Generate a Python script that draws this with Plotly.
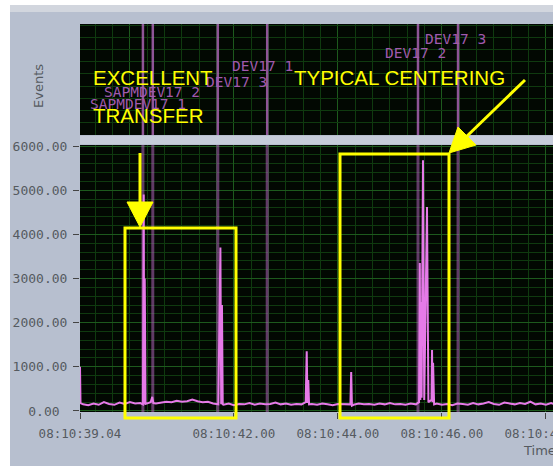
import plotly.graph_objects as go

W, H = 553, 466

# ---------------- data ----------------
times = [39.04, 39.05, 39.10, 39.20, 39.30, 39.40, 39.50, 39.60, 39.70, 39.80, 39.90,
         40.00, 40.10, 40.20, 40.25, 40.265, 40.275, 40.285, 40.30, 40.40, 40.43, 40.45,
         40.50, 40.60, 40.70, 40.80, 40.90, 41.00, 41.10, 41.20, 41.30, 41.40, 41.50,
         41.60, 41.70, 41.74, 41.755, 41.77, 41.785, 41.80, 41.90, 42.00, 42.10, 42.20,
         42.30, 42.40, 42.50, 42.60, 42.70, 42.80, 42.90, 43.00, 43.10, 43.20, 43.30,
         43.38, 43.40, 43.415, 43.43, 43.445, 43.50, 43.60, 43.70, 43.80, 43.90, 44.00,
         44.10, 44.20, 44.24, 44.255, 44.27, 44.30, 44.40, 44.50, 44.60, 44.70, 44.80,
         44.90, 45.00, 45.10, 45.20, 45.30, 45.40, 45.50, 45.56, 45.575, 45.585, 45.595,
         45.61, 45.636, 45.66, 45.713, 45.74, 45.80, 45.81, 45.82, 45.83, 45.85, 45.90,
         46.00, 46.10, 46.20, 46.30, 46.40, 46.50, 46.60, 46.70, 46.80, 46.90, 47.00,
         47.10, 47.20, 47.30, 47.40, 47.50, 47.60, 47.70, 47.80, 47.90, 48.00, 48.10,
         48.14]
events_per_bin = [1000, 180, 150, 130, 170, 140, 200, 160, 140, 190, 160,
                  200, 170, 180, 150, 4900, 150, 3000, 160, 200, 320, 180,
                  170, 190, 210, 200, 230, 210, 220, 260, 220, 200, 210,
                  170, 150, 3700, 150, 2400, 150, 140, 170, 130, 160, 150,
                  180, 140, 170, 150, 160, 190, 150, 170, 140, 160, 150,
                  200, 1350, 180, 700, 150, 160, 140, 170, 150, 130, 160,
                  150, 140, 150, 880, 120, 140, 170, 150, 160, 140, 170,
                  150, 180, 150, 160, 140, 170, 150, 200, 3350, 250, 2470,
                  300, 5680, 250, 4620, 200, 250, 1380, 200, 1090, 150, 170,
                  140, 160, 130, 170, 160, 140, 180, 150, 170, 200, 160,
                  140, 190, 170, 150, 180, 160, 210, 150, 170, 140, 180,
                  160]

event_times = [40.25, 40.44, 41.69, 42.64, 45.54, 46.31]
event_labels = ["SAPMDEV17 1", "SAPMDEV17 2", "DEV17 3", "DEV17 1", "DEV17 2", "DEV17 3"]
event_label_times = [40.155, 40.425, 42.04, 42.54, 45.50, 46.27]
event_label_levels = [0.279, 0.387, 0.477, 0.62, 0.739, 0.865]

x_tickvals = [39.04, 42, 44, 46, 48]
x_ticktext = ["08:10:39.04", "08:10:42.00", "08:10:44.00", "08:10:46.00", "08:10:48.00"]
y_tickvals = [0, 1000, 2000, 3000, 4000, 5000, 6000]
y_ticktext = ["0.00\u00a0", "1000.00", "2000.00", "3000.00", "4000.00", "5000.00", "6000.00"]


def px(x):
    return x / W


def py(y):
    return 1 - y / H


fig = go.Figure()

# event marker lines (main + top panel)
mx, my, tx, ty = [], [], [], []
for t in event_times:
    mx += [t, t, None]
    my += [-500, 8000, None]
    tx += [t, t, None]
    ty += [-0.1, 1.1, None]
fig.add_trace(go.Scatter(x=mx, y=my, mode="lines", xaxis="x", yaxis="y",
                         line=dict(color="rgba(175,100,185,0.55)", width=3),
                         hoverinfo="skip", showlegend=False))
fig.add_trace(go.Scatter(x=tx, y=ty, mode="lines", xaxis="x2", yaxis="y2",
                         line=dict(color="rgba(190,110,200,0.75)", width=2.5),
                         hoverinfo="skip", showlegend=False))

# data line
fig.add_trace(go.Scatter(x=times, y=events_per_bin, mode="lines", xaxis="x", yaxis="y",
                         line=dict(color="#e67ae8", width=2), showlegend=False))

grid_major = "#1d5a1d"
grid_minor = "#0f3a0f"
tickfont = dict(family="DejaVu Sans Mono", size=12.5, color="#555a60")

fig.update_layout(
    width=W, height=H,
    margin=dict(l=0, r=0, t=0, b=0, pad=0, autoexpand=False),
    paper_bgcolor="#b7bfcf",
    plot_bgcolor="#020802",
    showlegend=False,
    xaxis=dict(domain=[80 / W, 1], range=[39.04, 39.04 + 473 / 52], anchor="y", automargin=False,
               tickmode="array", tickvals=x_tickvals, ticktext=x_ticktext,
               ticks="outside", ticklen=6, tickcolor="#444", tickwidth=1,
               ticklabelstandoff=4, ticklabeloverflow="allow",
               showgrid=True, gridcolor=grid_major, gridwidth=1,
               minor=dict(tick0=42, dtick=1 / 3, showgrid=True, gridcolor=grid_minor, ticks=""),
               zeroline=False, showline=False, tickfont=tickfont),
    xaxis2=dict(domain=[80 / W, 1], matches="x", anchor="y2", automargin=False,
                showticklabels=False, ticks="",
                showgrid=True, gridcolor=grid_major,
                minor=dict(tick0=42, dtick=1 / 3, showgrid=True, gridcolor=grid_minor, ticks=""),
                zeroline=False, showline=False),
    yaxis=dict(domain=[(H - 412) / H, (H - 145) / H], range=[-23, 6023], anchor="x", automargin=False,
               tickmode="array", tickvals=y_tickvals, ticktext=y_ticktext,
               ticks="outside", ticklen=6, tickcolor="#444", ticklabelstandoff=3,
               showgrid=True, gridcolor=grid_major,
               minor=dict(dtick=200, showgrid=True, gridcolor=grid_minor, ticks=""),
               zeroline=False, showline=False,
               tickfont=dict(family="DejaVu Sans Mono", size=13, color="#555a60")),
    yaxis2=dict(domain=[(H - 135) / H, (H - 24) / H], range=[0, 1], anchor="x2", automargin=False,
                tickmode="linear", tick0=0, dtick=0.11, showticklabels=False, ticks="",
                showgrid=True, gridcolor=grid_minor, zeroline=False, showline=False),
)

shapes = []
# frame strips
shapes.append(dict(type="rect", xref="paper", yref="paper", x0=0, x1=1, y0=py(12), y1=py(5),
                   fillcolor="#d2d6de", line=dict(width=0), layer="above"))
shapes.append(dict(type="rect", xref="paper", yref="paper", x0=0, x1=1, y0=py(5), y1=1,
                   fillcolor="#ffffff", line=dict(width=0), layer="above"))
shapes.append(dict(type="rect", xref="paper", yref="paper", x0=0, x1=px(10), y0=0, y1=1,
                   fillcolor="#ffffff", line=dict(width=0), layer="above"))
shapes.append(dict(type="rect", xref="paper", yref="paper", x0=px(80), x1=1, y0=py(144), y1=py(136),
                   fillcolor="#c6ccda", line=dict(width=0), layer="below"))

Y = "#ffff00"
# boxes
shapes.append(dict(type="rect", xref="paper", yref="paper", x0=px(125), x1=px(236), y0=py(418), y1=py(228),
                   line=dict(color=Y, width=3), fillcolor="rgba(0,0,0,0)", layer="above"))
shapes.append(dict(type="rect", xref="paper", yref="paper", x0=px(340), x1=px(449), y0=py(418), y1=py(154),
                   line=dict(color=Y, width=3), fillcolor="rgba(0,0,0,0)", layer="above"))
# arrow 1
shapes.append(dict(type="line", xref="paper", yref="paper", x0=px(140), x1=px(140), y0=py(153), y1=py(206),
                   line=dict(color=Y, width=3), layer="above"))
shapes.append(dict(type="path", xref="paper", yref="paper",
                   path=f"M {px(127)},{py(202)} L {px(153)},{py(202)} L {px(140)},{py(227)} Z",
                   fillcolor=Y, line=dict(color=Y, width=1), layer="above"))
# arrow 2
shapes.append(dict(type="line", xref="paper", yref="paper", x0=px(525), x1=px(465), y0=py(80), y1=py(138),
                   line=dict(color=Y, width=3), layer="above"))
shapes.append(dict(type="path", xref="paper", yref="paper",
                   path=f"M {px(476)},{py(145)} L {px(458)},{py(127)} L {px(449)},{py(153)} Z",
                   fillcolor=Y, line=dict(color=Y, width=1), layer="above"))
fig.update_layout(shapes=shapes)

annotations = []
for txt, t, lv in zip(event_labels, event_label_times, event_label_levels):
    annotations.append(dict(x=t, y=lv, xref="x2", yref="y2", text=txt, showarrow=False,
                            xanchor="center", yanchor="middle",
                            font=dict(family="DejaVu Sans Mono", size=14.5, color="#a05aae")))
yfont = dict(family="Liberation Sans, Arial", size=20.5, color=Y)
annotations.append(dict(x=px(91), y=py(77), xref="paper", yref="paper", text="EXCELLENT",
                        showarrow=False, xanchor="left", yanchor="middle", font=yfont))
annotations.append(dict(x=px(91), y=py(115), xref="paper", yref="paper", text="TRANSFER",
                        showarrow=False, xanchor="left", yanchor="middle", font=yfont))
annotations.append(dict(x=px(292), y=py(77), xref="paper", yref="paper", text="TYPICAL CENTERING",
                        showarrow=False, xanchor="left", yanchor="middle", font=yfont))
annotations.append(dict(x=px(39), y=py(86), xref="paper", yref="paper", text="Events", textangle=-90,
                        showarrow=False, xanchor="center", yanchor="middle",
                        font=dict(family="DejaVu Sans", size=13, color="#555a60")))
annotations.append(dict(x=px(521), y=py(450), xref="paper", yref="paper", text="Time",
                        showarrow=False, xanchor="left", yanchor="middle",
                        font=dict(family="DejaVu Sans", size=13, color="#555a60")))
fig.update_layout(annotations=annotations)

fig.write_html("out.html", config={"displayModeBar": False},
               post_script="document.body.style.margin='0';document.body.style.overflow='hidden';")
